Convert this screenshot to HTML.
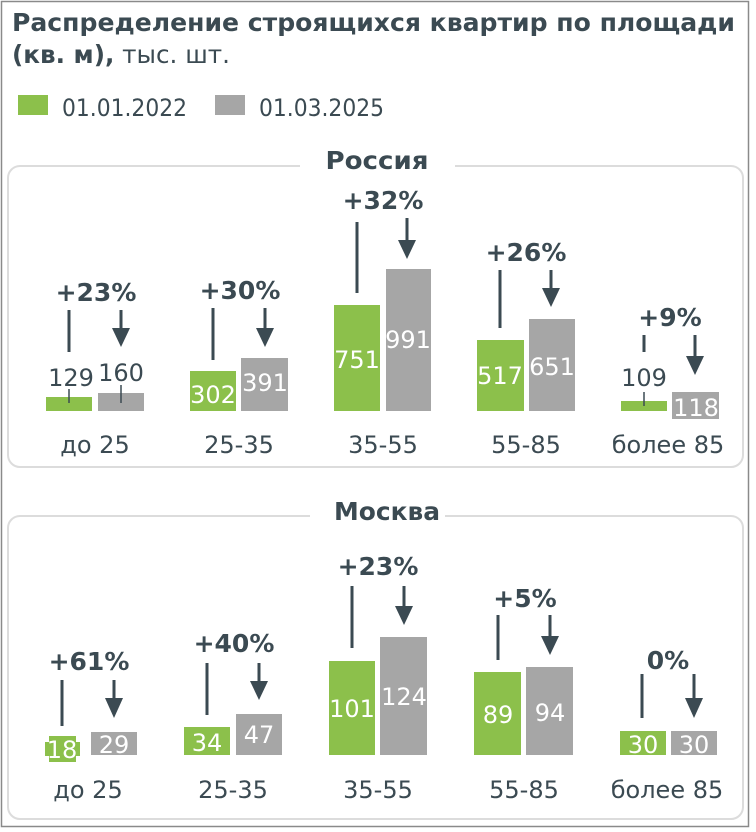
<!DOCTYPE html>
<html><head><meta charset="utf-8"><style>
html,body{margin:0;padding:0;background:#fff;}
svg{display:block;font-family:"DejaVu Sans","Liberation Sans",sans-serif;}
</style></head><body>
<svg width="756" height="832" viewBox="0 0 756 832" xmlns="http://www.w3.org/2000/svg">
<rect x="1.5" y="1.5" width="747" height="825" fill="#fff" stroke="#8a8a8a" stroke-width="1.5"/>
<g fill="#3b4a52">
<text x="12" y="31" font-size="25" font-weight="bold" textLength="723" lengthAdjust="spacingAndGlyphs">Распределение строящихся квартир по площади</text>
<text x="12" y="63" font-size="25" textLength="218" lengthAdjust="spacingAndGlyphs"><tspan font-weight="bold">(кв. м),</tspan> тыс. шт.</text>
</g>
<rect x="18" y="95" width="30" height="20" fill="#8cc04b"/>
<text x="62" y="116" font-size="24" fill="#3b4a52" textLength="125" lengthAdjust="spacingAndGlyphs">01.01.2022</text>
<rect x="215" y="95" width="30" height="20" fill="#a6a6a6"/>
<text x="259" y="116" font-size="24" fill="#3b4a52" textLength="125" lengthAdjust="spacingAndGlyphs">01.03.2025</text>

<rect x="8" y="166" width="735" height="301" rx="12" fill="none" stroke="#dcdcdc" stroke-width="2"/>
<rect x="300" y="150" width="155" height="30" fill="#fff"/>
<text x="377" y="169" font-size="25" font-weight="bold" fill="#3b4a52" text-anchor="middle" textLength="103" lengthAdjust="spacingAndGlyphs">Россия</text>

<rect x="8" y="516" width="735" height="303" rx="12" fill="none" stroke="#dcdcdc" stroke-width="2"/>
<rect x="310" y="500" width="135" height="30" fill="#fff"/>
<text x="387" y="520" font-size="25" font-weight="bold" fill="#3b4a52" text-anchor="middle" textLength="106" lengthAdjust="spacingAndGlyphs">Москва</text>

<g fill="#8cc04b">
<rect x="46" y="397" width="46" height="14"/>
<rect x="190" y="371" width="46" height="40"/>
<rect x="334" y="305" width="46" height="106"/>
<rect x="477" y="340" width="47" height="71"/>
<rect x="621" y="401" width="46" height="10"/>
<rect x="49" y="736" width="27" height="26"/><rect x="45" y="742" width="35" height="14"/>
<rect x="184" y="727" width="46" height="28"/>
<rect x="329" y="661" width="46" height="94"/>
<rect x="474" y="672" width="47" height="83"/>
<rect x="620" y="731" width="46" height="24"/>
</g>
<g fill="#a6a6a6">
<rect x="98" y="393" width="46" height="18"/>
<rect x="241" y="358" width="47" height="53"/>
<rect x="386" y="269" width="45" height="142"/>
<rect x="529" y="319" width="46" height="92"/>
<rect x="672" y="392" width="47" height="27"/>
<rect x="91" y="732" width="46" height="23"/>
<rect x="236" y="714" width="46" height="41"/>
<rect x="380" y="637" width="47" height="118"/>
<rect x="526" y="667" width="47" height="88"/>
<rect x="671" y="731" width="46" height="24"/>
</g>
<g font-size="24" text-anchor="middle">
<g fill="#3b4a52"><text x="71" y="386">129</text><text x="121" y="381">160</text><text x="644" y="386">109</text></g>
<g fill="#fff">
<text x="213" y="403">302</text><text x="265" y="391">391</text>
<text x="357" y="368">751</text><text x="408" y="348">991</text>
<text x="500" y="384">517</text><text x="552" y="375">651</text>
<text x="696" y="416">118</text>
<text x="62" y="758">18</text><text x="114" y="753">29</text>
<text x="207" y="751">34</text><text x="259" y="743">47</text>
<text x="352" y="717">101</text><text x="404" y="705">124</text>
<text x="498" y="723">89</text><text x="550" y="721">94</text>
<text x="643" y="753">30</text><text x="694" y="753">30</text>
</g>
<g fill="#3b4a52">
<text x="95" y="453">до 25</text><text x="239" y="453">25-35</text><text x="383" y="453">35-55</text><text x="526" y="453">55-85</text><text x="668" y="453">более 85</text>
<text x="88" y="798">до 25</text><text x="233" y="798">25-35</text><text x="378" y="798">35-55</text><text x="524" y="798">55-85</text><text x="667" y="798">более 85</text>
</g>
</g>
<g font-size="25" font-weight="bold" fill="#3b4a52" text-anchor="middle">
<text x="96" y="301">+23%</text><text x="240" y="299">+30%</text><text x="383" y="209">+32%</text><text x="526" y="261">+26%</text><text x="670" y="326">+9%</text>
<text x="89" y="670">+61%</text><text x="234" y="652">+40%</text><text x="378" y="575">+23%</text><text x="525" y="607">+5%</text><text x="668" y="669">0%</text>
</g>
<g stroke="#3b4a52" stroke-width="3">
<line x1="69" y1="310" x2="69" y2="352"/><line x1="69" y1="389" x2="69" y2="403" stroke-width="1.5"/>
<line x1="121" y1="310" x2="121" y2="330"/><line x1="121" y1="385" x2="121" y2="403" stroke-width="1.5"/>
<line x1="213" y1="308" x2="213" y2="360"/><line x1="265" y1="308" x2="265" y2="330"/>
<line x1="357" y1="222" x2="357" y2="293"/><line x1="407" y1="218" x2="407" y2="242"/>
<line x1="500" y1="270" x2="500" y2="328"/><line x1="551" y1="270" x2="551" y2="290"/>
<line x1="644" y1="335" x2="644" y2="352"/><line x1="644" y1="392" x2="644" y2="406" stroke-width="1.5"/>
<line x1="695" y1="335" x2="695" y2="358"/>
<line x1="62" y1="680" x2="62" y2="726"/><line x1="114" y1="680" x2="114" y2="700"/>
<line x1="207" y1="663" x2="207" y2="715"/><line x1="259" y1="663" x2="259" y2="683"/>
<line x1="352" y1="586" x2="352" y2="648"/><line x1="404" y1="586" x2="404" y2="608"/>
<line x1="498" y1="615" x2="498" y2="660"/><line x1="550" y1="615" x2="550" y2="638"/>
<line x1="642" y1="674" x2="642" y2="718"/><line x1="694" y1="674" x2="694" y2="700"/>
</g>
<g fill="#3b4a52">
<polygon points="112,328 130,328 121,347"/>
<polygon points="256,328 274,328 265,347"/>
<polygon points="398,240 416,240 407,259"/>
<polygon points="542,288 560,288 551,307"/>
<polygon points="686,356 704,356 695,375"/>
<polygon points="105,698 123,698 114,718"/>
<polygon points="250,681 268,681 259,700"/>
<polygon points="395,606 413,606 404,625"/>
<polygon points="541,636 559,636 550,655"/>
<polygon points="685,698 703,698 694,718"/>
</g>
</svg>
</body></html>
